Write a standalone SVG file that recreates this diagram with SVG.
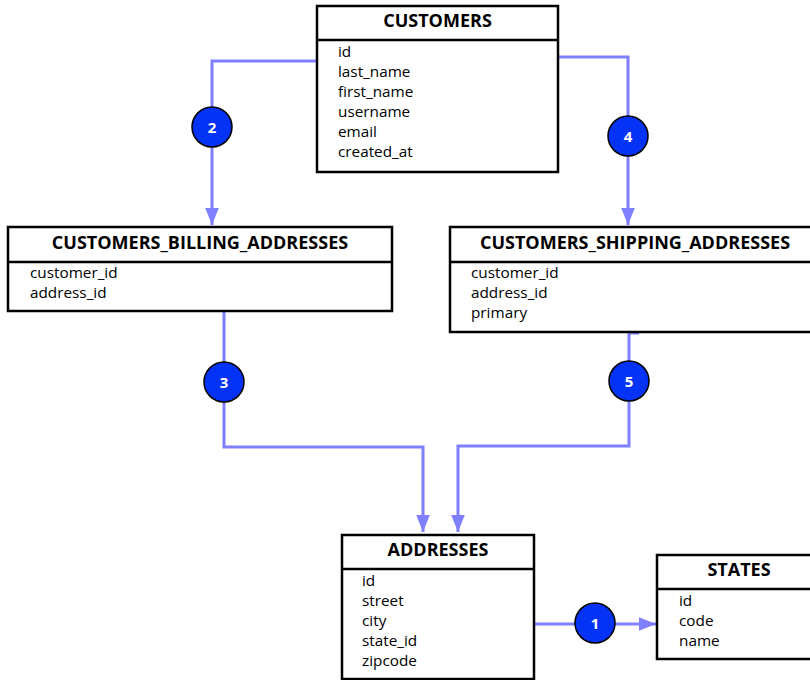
<svg xmlns="http://www.w3.org/2000/svg" width="810" height="680" viewBox="0 0 810 680">
<defs>
<style>
.box{fill:#fff;stroke:#000;stroke-width:2.5}
.div{stroke:#000;stroke-width:2.5}
.title{font-family:"Open Sans","Liberation Sans",sans-serif;font-weight:bold;font-size:18px;text-anchor:middle;fill:#000}
.attr{font-family:"Open Sans","Liberation Sans",sans-serif;font-size:15.3px;fill:#000}
.conn{fill:none;stroke:#7f7fff;stroke-width:3}
.badge{fill:#0533f5;stroke:#000;stroke-width:1.5}
.num{font-family:"Open Sans","Liberation Sans",sans-serif;font-weight:bold;font-size:15px;fill:#fff;text-anchor:middle}
</style>
<marker id="arr" viewBox="0 0 10 8" refX="10" refY="4" markerWidth="5.8" markerHeight="4.6" markerUnits="strokeWidth" orient="auto">
<path d="M0,0 L10,4 L0,8 z" fill="#7f7fff"/>
</marker>
</defs>
<rect width="810" height="680" fill="#fff"/>

<g id="connectors">
<path class="conn" d="M317,61 H212 V225" marker-end="url(#arr)"/>
<path class="conn" d="M558,57 H628 V225" marker-end="url(#arr)"/>
<path class="conn" d="M224,311 V447 H423 V532" marker-end="url(#arr)"/>
<path class="conn" d="M639,333 H629 V446 H458 V532" marker-end="url(#arr)"/>
<path class="conn" d="M534,624 H656" marker-end="url(#arr)"/>
<circle class="badge" cx="212" cy="127" r="20"/><text class="num" x="212" y="132.5">2</text>
<circle class="badge" cx="628" cy="136" r="20"/><text class="num" x="628" y="141.5">4</text>
<circle class="badge" cx="224" cy="382" r="20"/><text class="num" x="224" y="387.5">3</text>
<circle class="badge" cx="629" cy="381" r="20"/><text class="num" x="629" y="386.5">5</text>
<circle class="badge" cx="595" cy="623" r="20"/><text class="num" x="595" y="628.5">1</text>
</g>

<g id="customers">
<rect class="box" x="317" y="6" width="241" height="166"/>
<line class="div" x1="317" y1="40" x2="558" y2="40"/>
<text class="title" x="437.5" y="27">CUSTOMERS</text>
<text class="attr" x="338" y="57">id</text>
<text class="attr" x="338" y="77">last_name</text>
<text class="attr" x="338" y="97">first_name</text>
<text class="attr" x="338" y="117">username</text>
<text class="attr" x="338" y="137">email</text>
<text class="attr" x="338" y="157">created_at</text>
</g>

<g id="billing">
<rect class="box" x="8" y="227" width="384" height="84"/>
<line class="div" x1="8" y1="262" x2="392" y2="262"/>
<text class="title" x="200" y="249">CUSTOMERS_BILLING_ADDRESSES</text>
<text class="attr" x="30" y="278">customer_id</text>
<text class="attr" x="30" y="298">address_id</text>
</g>

<g id="shipping">
<rect class="box" x="450" y="227" width="370" height="105"/>
<line class="div" x1="450" y1="262" x2="810" y2="262"/>
<text class="title" x="635" y="249">CUSTOMERS_SHIPPING_ADDRESSES</text>
<text class="attr" x="471" y="278">customer_id</text>
<text class="attr" x="471" y="298">address_id</text>
<text class="attr" x="471" y="318">primary</text>
</g>

<g id="addresses">
<rect class="box" x="342" y="535" width="192" height="144"/>
<line class="div" x1="342" y1="569" x2="534" y2="569"/>
<text class="title" x="438" y="556">ADDRESSES</text>
<text class="attr" x="362" y="586">id</text>
<text class="attr" x="362" y="606">street</text>
<text class="attr" x="362" y="626">city</text>
<text class="attr" x="362" y="646">state_id</text>
<text class="attr" x="362" y="666">zipcode</text>
</g>

<g id="states">
<rect class="box" x="657" y="555" width="170" height="104"/>
<line class="div" x1="657" y1="589" x2="810" y2="589"/>
<text class="title" x="739" y="576">STATES</text>
<text class="attr" x="679" y="606">id</text>
<text class="attr" x="679" y="626">code</text>
<text class="attr" x="679" y="646">name</text>
</g>
</svg>
